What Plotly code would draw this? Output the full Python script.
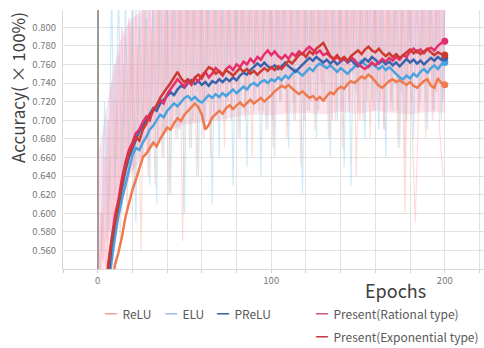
import plotly.graph_objects as go

# ---------------- data ----------------
epochs = list(range(4, 201, 2))

relu = [0.470, 0.495, 0.520, 0.545, 0.558, 0.575, 0.596, 0.612, 0.625, 0.636,
        0.648, 0.660, 0.664, 0.670, 0.676, 0.672, 0.680, 0.686, 0.692, 0.690,
        0.697, 0.702, 0.699, 0.706, 0.710, 0.714, 0.718, 0.714, 0.706, 0.690,
        0.695, 0.703, 0.706, 0.710, 0.707, 0.713, 0.716, 0.712, 0.716, 0.719,
        0.715, 0.719, 0.722, 0.718, 0.721, 0.724, 0.720, 0.723, 0.727, 0.731,
        0.734, 0.737, 0.735, 0.738, 0.734, 0.731, 0.728, 0.731, 0.727, 0.724,
        0.726, 0.722, 0.725, 0.721, 0.726, 0.730, 0.728, 0.733, 0.736, 0.734,
        0.739, 0.742, 0.740, 0.744, 0.747, 0.745, 0.749, 0.746, 0.741, 0.737,
        0.735, 0.739, 0.742, 0.744, 0.741, 0.743, 0.740, 0.738, 0.741, 0.737,
        0.735, 0.739, 0.742, 0.744, 0.737, 0.735, 0.745, 0.740, 0.738]

elu = [0.480, 0.515, 0.548, 0.575, 0.598, 0.615, 0.630, 0.648, 0.662, 0.670,
       0.668, 0.676, 0.682, 0.690, 0.694, 0.700, 0.706, 0.703, 0.710, 0.714,
       0.718, 0.715, 0.720, 0.724, 0.726, 0.722, 0.725, 0.721, 0.719, 0.723,
       0.727, 0.724, 0.728, 0.725, 0.729, 0.726, 0.730, 0.733, 0.729, 0.733,
       0.736, 0.733, 0.738, 0.740, 0.737, 0.741, 0.743, 0.740, 0.744, 0.742,
       0.746, 0.743, 0.748, 0.745, 0.750, 0.754, 0.751, 0.748, 0.752, 0.756,
       0.753, 0.758, 0.761, 0.758, 0.756, 0.759, 0.755, 0.752, 0.756, 0.753,
       0.750, 0.754, 0.757, 0.761, 0.764, 0.760, 0.757, 0.761, 0.758, 0.755,
       0.758, 0.754, 0.757, 0.753, 0.749, 0.746, 0.744, 0.748, 0.745, 0.750,
       0.747, 0.752, 0.755, 0.751, 0.756, 0.759, 0.755, 0.760, 0.762]

prelu = [0.490, 0.532, 0.565, 0.590, 0.608, 0.628, 0.646, 0.660, 0.670, 0.678,
         0.688, 0.694, 0.700, 0.706, 0.713, 0.710, 0.718, 0.722, 0.726, 0.730,
         0.727, 0.733, 0.737, 0.735, 0.740, 0.743, 0.739, 0.742, 0.738, 0.741,
         0.737, 0.742, 0.740, 0.744, 0.741, 0.745, 0.742, 0.746, 0.743, 0.748,
         0.751, 0.749, 0.754, 0.757, 0.761, 0.758, 0.762, 0.758, 0.756, 0.759,
         0.755, 0.758, 0.762, 0.758, 0.755, 0.752, 0.756, 0.760, 0.763, 0.767,
         0.764, 0.768, 0.765, 0.762, 0.765, 0.761, 0.764, 0.760, 0.763, 0.766,
         0.762, 0.765, 0.761, 0.758, 0.762, 0.766, 0.763, 0.768, 0.765, 0.761,
         0.764, 0.760, 0.763, 0.759, 0.762, 0.758, 0.762, 0.766, 0.762, 0.765,
         0.761, 0.764, 0.760, 0.763, 0.767, 0.764, 0.768, 0.765, 0.767]

rational = [0.500, 0.545, 0.572, 0.598, 0.615, 0.638, 0.655, 0.668, 0.676, 0.686,
            0.690, 0.698, 0.704, 0.700, 0.712, 0.716, 0.722, 0.718, 0.728, 0.733,
            0.738, 0.744, 0.740, 0.736, 0.742, 0.738, 0.745, 0.742, 0.748, 0.752,
            0.746, 0.750, 0.756, 0.752, 0.748, 0.755, 0.758, 0.754, 0.760, 0.757,
            0.763, 0.760, 0.766, 0.762, 0.768, 0.765, 0.771, 0.775, 0.770, 0.774,
            0.769, 0.766, 0.770, 0.766, 0.772, 0.769, 0.774, 0.771, 0.776, 0.779,
            0.776, 0.772, 0.775, 0.770, 0.772, 0.768, 0.765, 0.768, 0.764, 0.767,
            0.763, 0.768, 0.765, 0.760, 0.757, 0.755, 0.758, 0.762, 0.759, 0.762,
            0.766, 0.763, 0.767, 0.764, 0.768, 0.765, 0.770, 0.768, 0.774, 0.777,
            0.773, 0.776, 0.772, 0.776, 0.778, 0.775, 0.780, 0.783, 0.785]

exponential = [0.490, 0.540, 0.570, 0.592, 0.612, 0.632, 0.650, 0.664, 0.672, 0.682,
               0.678, 0.690, 0.696, 0.706, 0.710, 0.716, 0.724, 0.730, 0.735, 0.740,
               0.746, 0.752, 0.745, 0.741, 0.744, 0.740, 0.746, 0.749, 0.745, 0.752,
               0.757, 0.755, 0.750, 0.753, 0.749, 0.754, 0.751, 0.748, 0.752, 0.756,
               0.752, 0.755, 0.750, 0.753, 0.749, 0.752, 0.756, 0.753, 0.757, 0.754,
               0.758, 0.755, 0.760, 0.764, 0.761, 0.766, 0.770, 0.772, 0.768, 0.774,
               0.771, 0.777, 0.780, 0.783, 0.776, 0.769, 0.766, 0.770, 0.765, 0.768,
               0.764, 0.769, 0.772, 0.775, 0.771, 0.776, 0.779, 0.775, 0.773, 0.777,
               0.772, 0.769, 0.772, 0.768, 0.771, 0.767, 0.770, 0.773, 0.776, 0.772,
               0.775, 0.771, 0.774, 0.777, 0.773, 0.770, 0.773, 0.771, 0.770]

# spread (envelope) of the raw per-epoch accuracy of the present method
band_epochs = [0, 4, 8, 12, 16, 20, 24, 30, 36, 40, 50, 60, 70, 80, 90, 100,
               110, 120, 130, 140, 150, 160, 170, 180, 190, 200]
band_low = [0.540, 0.540, 0.565, 0.600, 0.625, 0.645, 0.655, 0.668, 0.680, 0.688,
            0.695, 0.698, 0.700, 0.704, 0.706, 0.705, 0.707, 0.708, 0.706, 0.709,
            0.707, 0.710, 0.708, 0.706, 0.709, 0.708]
band_high = [0.660, 0.700, 0.745, 0.780, 0.800, 0.810, 0.815, 0.830, 0.840, 0.850,
             0.850, 0.850, 0.850, 0.850, 0.850, 0.850, 0.850, 0.850, 0.850, 0.850,
             0.850, 0.850, 0.850, 0.850, 0.850, 0.850]

# raw (unsmoothed) per-epoch accuracy, drawn faintly behind
raw_epochs_all = list(range(1, 201))
raw_present = [0.52, 0.60, 0.55, 0.66, 0.57, 0.70, 0.58, 0.74, 0.59, 0.76,
               0.60, 0.77, 0.62, 0.80, 0.63, 0.79, 0.64, 0.81, 0.66, 0.80,
               0.65, 0.82, 0.67, 0.80, 0.66, 0.83, 0.68, 0.81, 0.67, 0.84,
               0.69, 0.82, 0.70, 0.85, 0.68, 0.86, 0.71, 0.84, 0.69, 0.87,
               0.72, 0.85, 0.70, 0.88, 0.73, 0.86, 0.69, 0.87, 0.72, 0.85,
               0.71, 0.88, 0.74, 0.86, 0.70, 0.89, 0.73, 0.87, 0.71, 0.86,
               0.68, 0.88, 0.72, 0.87, 0.74, 0.86, 0.70, 0.89, 0.73, 0.87,
               0.71, 0.88, 0.74, 0.86, 0.72, 0.89, 0.70, 0.87, 0.74, 0.88,
               0.72, 0.86, 0.75, 0.89, 0.71, 0.87, 0.73, 0.88, 0.76, 0.86,
               0.72, 0.89, 0.74, 0.87, 0.71, 0.88, 0.75, 0.86, 0.73, 0.89,
               0.70, 0.87, 0.74, 0.88, 0.72, 0.86, 0.75, 0.89, 0.71, 0.87,
               0.74, 0.88, 0.72, 0.86, 0.76, 0.89, 0.73, 0.87, 0.70, 0.88,
               0.74, 0.86, 0.72, 0.89, 0.75, 0.87, 0.71, 0.88, 0.74, 0.86,
               0.72, 0.89, 0.75, 0.87, 0.70, 0.88, 0.73, 0.86, 0.75, 0.89,
               0.71, 0.87, 0.74, 0.88, 0.72, 0.86, 0.75, 0.89, 0.73, 0.87,
               0.70, 0.88, 0.74, 0.86, 0.72, 0.89, 0.75, 0.87, 0.71, 0.88,
               0.74, 0.86, 0.72, 0.89, 0.69, 0.87, 0.74, 0.88, 0.72, 0.86,
               0.75, 0.89, 0.71, 0.87, 0.73, 0.88, 0.66, 0.86, 0.74, 0.89,
               0.72, 0.87, 0.75, 0.88, 0.71, 0.86, 0.74, 0.89, 0.72, 0.87,
               0.75, 0.88, 0.70, 0.86, 0.73, 0.89, 0.74, 0.87, 0.72, 0.86]

raw_epochs_even = list(range(2, 201, 2))
raw_elu = [0.56, 0.72, 0.58, 0.84, 0.62, 0.85, 0.60, 0.83, 0.64, 0.86,
           0.59, 0.84, 0.66, 0.87, 0.63, 0.85, 0.61, 0.88, 0.66, 0.86,
           0.62, 0.87, 0.68, 0.85, 0.60, 0.88, 0.67, 0.86, 0.64, 0.87,
           0.69, 0.85, 0.61, 0.88, 0.66, 0.86, 0.70, 0.87, 0.63, 0.85,
           0.68, 0.88, 0.65, 0.86, 0.71, 0.87, 0.64, 0.85, 0.69, 0.88,
           0.66, 0.86, 0.72, 0.87, 0.67, 0.85, 0.70, 0.88, 0.62, 0.86,
           0.71, 0.87, 0.68, 0.85, 0.72, 0.88, 0.66, 0.86, 0.70, 0.87,
           0.65, 0.85, 0.63, 0.88, 0.71, 0.86, 0.68, 0.87, 0.72, 0.85,
           0.69, 0.88, 0.66, 0.86, 0.71, 0.87, 0.67, 0.85, 0.70, 0.88,
           0.68, 0.86, 0.72, 0.87, 0.69, 0.85, 0.71, 0.88, 0.70, 0.86]

raw_epochs_odd = list(range(1, 200, 2))
raw_relu = [0.50, 0.60, 0.53, 0.66, 0.55, 0.72, 0.57, 0.76, 0.60, 0.80,
            0.62, 0.78, 0.56, 0.82, 0.64, 0.80, 0.63, 0.84, 0.66, 0.82,
            0.62, 0.85, 0.68, 0.83, 0.57, 0.86, 0.67, 0.84, 0.64, 0.85,
            0.69, 0.83, 0.66, 0.86, 0.70, 0.84, 0.67, 0.85, 0.71, 0.83,
            0.68, 0.86, 0.70, 0.84, 0.66, 0.85, 0.71, 0.83, 0.69, 0.86,
            0.67, 0.84, 0.72, 0.85, 0.68, 0.83, 0.70, 0.86, 0.65, 0.84,
            0.71, 0.85, 0.69, 0.83, 0.72, 0.86, 0.68, 0.84, 0.70, 0.85,
            0.67, 0.83, 0.71, 0.86, 0.64, 0.84, 0.70, 0.85, 0.68, 0.83,
            0.72, 0.86, 0.69, 0.84, 0.71, 0.85, 0.67, 0.83, 0.60, 0.86,
            0.70, 0.59, 0.72, 0.84, 0.68, 0.85, 0.71, 0.83, 0.69, 0.64]

x_tick_vals = [0, 100, 200]
y_tick_vals = [0.56, 0.58, 0.60, 0.62, 0.64, 0.66, 0.68, 0.70, 0.72, 0.74, 0.76, 0.78, 0.80]

series = [
    ("ReLU", relu, "#ee7a4e", "#f3a29c"),
    ("ELU", elu, "#4aa2de", "#9fc3e6"),
    ("PReLU", prelu, "#3a64ac", "#3f63a5"),
    ("Present(Rational type)", rational, "#e62e6c", "#d25a78"),
    ("Present(Exponential type)", exponential, "#cc3a30", "#c93c4a"),
]

FONT = "Noto Sans CJK JP"

fig = go.Figure()

# pink spread band of the raw accuracies
fig.add_trace(go.Scatter(x=band_epochs, y=band_high, mode="lines",
                         line=dict(width=0, color="rgba(0,0,0,0)"),
                         showlegend=False, hoverinfo="skip"))
fig.add_trace(go.Scatter(x=band_epochs, y=band_low, mode="lines", fill="tonexty",
                         fillcolor="rgba(245,140,175,0.24)",
                         line=dict(width=0, color="rgba(0,0,0,0)"),
                         showlegend=False, hoverinfo="skip"))

# faint raw traces
fig.add_trace(go.Scatter(x=raw_epochs_all, y=raw_present, mode="lines",
                         line=dict(color="rgba(240,110,155,0.22)", width=2.0),
                         showlegend=False, hoverinfo="skip"))
fig.add_trace(go.Scatter(x=raw_epochs_even, y=raw_elu, mode="lines",
                         line=dict(color="rgba(150,208,238,0.45)", width=1.2),
                         showlegend=False, hoverinfo="skip"))
fig.add_trace(go.Scatter(x=raw_epochs_odd, y=raw_relu, mode="lines",
                         line=dict(color="rgba(246,175,155,0.40)", width=1.2),
                         showlegend=False, hoverinfo="skip"))

# smoothed curves
for name, vals, col, _ in series:
    fig.add_trace(go.Scatter(x=epochs, y=vals, mode="lines", name=name,
                             line=dict(color=col, width=2.5), showlegend=False))
    fig.add_trace(go.Scatter(x=[epochs[-1]], y=[vals[-1]], mode="markers",
                             marker=dict(color=col, size=7), showlegend=False,
                             hoverinfo="skip", cliponaxis=False))

W, H = 484, 348
L, R, T, B = 63, 0, 10, 79
pw, ph = W - L - R, H - T - B

def px_x(x):
    return (x - L) / pw

def px_y(y):
    return (H - B - y) / ph

annotations = []
legend_pos = [(103, 313), (163, 313), (215, 313), (314, 313), (314, 336)]
for (name, _, _, lcol), (lx, ly) in zip(series, legend_pos):
    annotations.append(dict(
        x=px_x(lx), y=px_y(ly), xref="paper", yref="paper",
        xanchor="left", yanchor="middle", showarrow=False,
        text=f"<span style='color:{lcol}'>━</span>\u00a0\u00a0{name}",
        font=dict(family=FONT, size=12, color="#5a5a5a")))

annotations.append(dict(x=px_x(395), y=px_y(290), xref="paper", yref="paper",
                        xanchor="center", yanchor="middle", showarrow=False,
                        text="Epochs", font=dict(family=FONT, size=18, color="#404040")))
annotations.append(dict(x=px_x(18), y=px_y(88), xref="paper", yref="paper",
                        xanchor="center", yanchor="middle", showarrow=False,
                        textangle=-90, text="Accuracy( × 100%)",
                        font=dict(family=FONT, size=17, color="#404040")))

fig.update_layout(
    width=W, height=H,
    margin=dict(l=L, r=R, t=T, b=B, pad=0),
    paper_bgcolor="white", plot_bgcolor="white",
    font=dict(family=FONT),
    showlegend=False,
    annotations=annotations,
    xaxis=dict(range=[-20, 222.6], tickvals=x_tick_vals, ticktext=[str(v) for v in x_tick_vals],
               showgrid=True, gridcolor="#e2e2e2", gridwidth=1,
               minor=dict(dtick=20, tick0=0, showgrid=True, gridcolor="#e2e2e2",
                          ticks="outside", ticklen=3, tickcolor="#d0d0d0"),
               ticks="outside", ticklen=3, tickcolor="#d0d0d0",
               zeroline=True, zerolinecolor="#9a9a9a", zerolinewidth=1.5,
               showline=True, linecolor="#d8d8d8", linewidth=1,
               tickfont=dict(family=FONT, size=9.5, color="#777777")),
    yaxis=dict(range=[0.54, 0.8185], tickvals=y_tick_vals, tickformat=".3f",
               showgrid=True, gridcolor="#e2e2e2", gridwidth=1,
               zeroline=False, showline=True, linecolor="#d8d8d8", linewidth=1,
               ticks="", ticklabelstandoff=4,
               tickfont=dict(family=FONT, size=9.5, color="#777777")),
)

fig.write_html("out.html")
